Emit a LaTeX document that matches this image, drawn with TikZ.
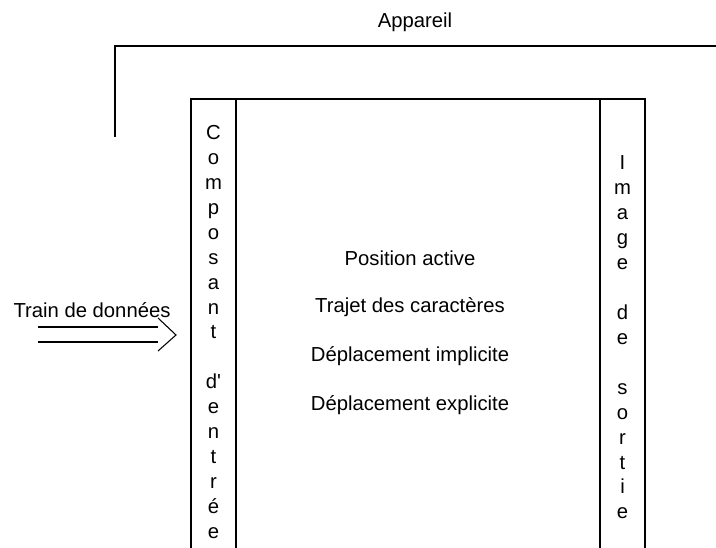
\documentclass[tikz,border=0pt]{standalone}
\usepackage{fontspec}
\setmainfont{Liberation Sans}
\begin{document}
\begin{tikzpicture}[x=0.75pt,y=-0.75pt,
  thinline/.style={line width=0.8pt},
  thickline/.style={line width=1.5pt},
  lbl/.style={inner sep=0pt,font=\fontsize{15.2pt}{18.7pt}\selectfont},
  vtext/.style={lbl,align=center}]
\useasboundingbox (0,0) rectangle (716,548);
% outer frame (Appareil)
\coordinate (fa) at (115,137);
\coordinate (fb) at (115,46);
\coordinate (fc) at (716,46);
\draw[thinline] (fa) -- (fb) -- (fc);
\node[lbl] (app) at (415,22) {Appareil};
% box
\coordinate (b1) at (191,548);
\coordinate (b2) at (191,99);
\coordinate (b3) at (645,99);
\coordinate (b4) at (645,548);
\draw[thinline] (b1) -- (b2) -- (b3) -- (b4);
\coordinate (l1) at (236,99);
\coordinate (l2) at (236,548);
\coordinate (r1) at (600,99);
\coordinate (r2) at (600,548);
\draw[thickline] (l1) -- (l2);
\draw[thickline] (r1) -- (r2);
% vertical texts
\node[vtext] (comp) at (213.5,332) {C\\o\\m\\p\\o\\s\\a\\n\\t\\~\\d\textquotesingle\\e\\n\\t\\r\\é\\e};
\node[vtext] (img) at (622.5,337.5) {I\\m\\a\\g\\e\\~\\d\\e\\~\\s\\o\\r\\t\\i\\e};
% centre texts
\node[lbl] (t1) at (410,258) {Position active};
\node[lbl] (t2) at (410,307) {Trajet des caractères};
\node[lbl] (t3) at (410,356) {Déplacement implicite};
\node[lbl] (t4) at (410,405) {Déplacement explicite};
% input arrow
\node[lbl] (train) at (92,310) {Train de données};
\coordinate (s1a) at (38,327);
\coordinate (s1b) at (158,327);
\coordinate (s2a) at (38,342);
\coordinate (s2b) at (158,342);
\coordinate (ha) at (158,318);
\coordinate (tip) at (176,335);
\coordinate (hb) at (158,351);
\draw[thinline] (s1a) -- (s1b);
\draw[thinline] (s2a) -- (s2b);
\draw[thinline,line join=miter] (ha) -- (tip) -- (hb);
\end{tikzpicture}
\end{document}
